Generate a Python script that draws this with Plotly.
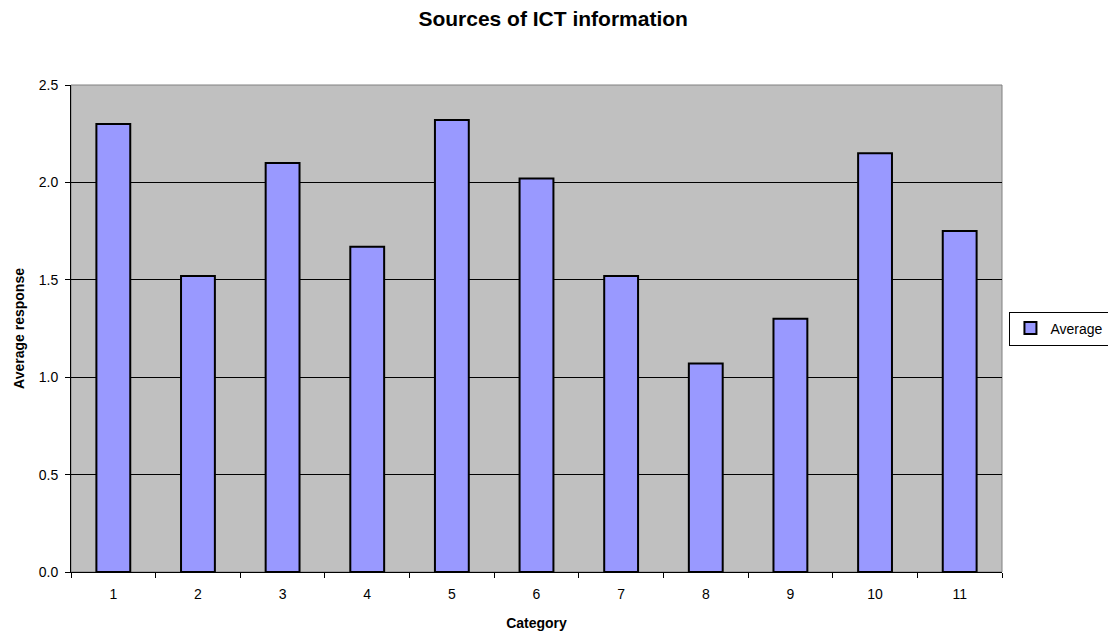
import plotly.graph_objects as go

categories = ["1", "2", "3", "4", "5", "6", "7", "8", "9", "10", "11"]
averages = [2.30, 1.52, 2.10, 1.67, 2.32, 2.02, 1.52, 1.07, 1.30, 2.15, 1.75]
y_ticks = [0.0, 0.5, 1.0, 1.5, 2.0, 2.5]

FONT = "Arial, 'Liberation Sans', sans-serif"

# page body has an 8px margin, so the figure is 8px smaller than the window
W, H = 1108, 625
L, T, R, B = 63, 77, 114, 61

fig = go.Figure()
fig.add_trace(go.Bar(
    x=categories, y=averages, name="Average", width=0.4,
    marker=dict(color="#9999FF", line=dict(color="black", width=2)),
    showlegend=True,
))

fig.update_layout(
    width=W, height=H,
    margin=dict(l=L, r=R, t=T, b=B, autoexpand=False),
    paper_bgcolor="white", plot_bgcolor="#C0C0C0",
    font=dict(family=FONT, size=14, color="black"),
    title=dict(text="<b>Sources of ICT information</b>", x=0.492, xref="container",
               xanchor="center", y=1 - 11 / H, yanchor="middle", yref="container",
               font=dict(size=21, family=FONT, color="black")),
    legend=dict(x=1.008, xanchor="left", y=0.5, yanchor="middle",
                bordercolor="black", borderwidth=1, bgcolor="white",
                font=dict(size=14, family=FONT), itemwidth=30),
)
fig.update_xaxes(
    type="category", tickson="boundaries", ticks="outside", ticklen=5,
    tickcolor="black", showline=True, linecolor="black", linewidth=1,
    showgrid=False, tickfont=dict(size=14), ticklabelstandoff=9,
    title=dict(text="<b>Category</b>", standoff=17, font=dict(size=14)),
    automargin=False,
)
fig.update_yaxes(
    range=[0, 2.5], tickvals=y_ticks, tickformat=".1f", ticks="outside", ticklen=5,
    tickcolor="black", showline=True, linecolor="black", linewidth=1,
    showgrid=True, gridcolor="black", gridwidth=1, zeroline=False,
    tickfont=dict(size=14), ticklabelstandoff=4,
    title=dict(text="<b>Average response</b>", standoff=10, font=dict(size=14)),
    automargin=False,
)
fig.add_shape(type="rect", xref="paper", yref="paper", x0=0, y0=0, x1=1, y1=1,
              line=dict(color="#808080", width=1), layer="below")

fig.write_html("out.html")
